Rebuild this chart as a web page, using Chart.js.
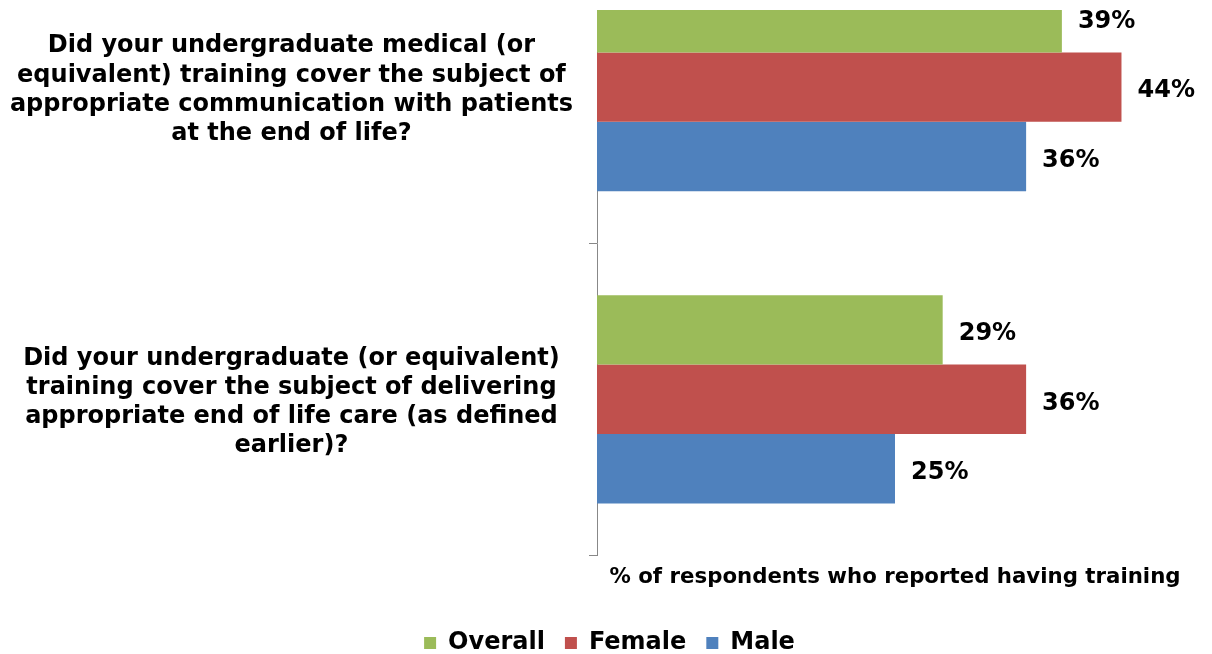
<!DOCTYPE html>
<html>
<head>
<meta charset="utf-8">
<script src="https://cdn.jsdelivr.net/npm/chart.js@4"></script>
<style>
  html, body { margin: 0; padding: 0; background: #fff; }
  #wrap { position: absolute; left: 0; top: 10px; width: 1212px; height: 644px; overflow: hidden; }
  #box { position: absolute; left: 0; top: -79px; width: 1212px; height: 734px; }
</style>
</head>
<body>
<div id="wrap"><div id="box"><canvas id="chart"></canvas></div></div>
<script>
const categories = [
  ["Did your undergraduate medical (or", "equivalent) training cover the subject of", "appropriate communication with patients", "at the end of life?"],
  ["Did your undergraduate (or equivalent)", "training cover the subject of delivering", "appropriate end of life care (as defined", "earlier)?"]
];
const seriesNames = ["Overall", "Female", "Male"];
const overall = [39, 29];
const female = [44, 36];
const male = [36, 25];
const colors = ["#9BBB59", "#C0504D", "#4F81BD"];

const FONT = "'DejaVu Sans', Verdana, sans-serif";

// draws the value labels to the right of each bar
const valueLabels = {
  id: "valueLabels",
  afterDatasetsDraw(chart) {
    const ctx = chart.ctx;
    ctx.save();
    ctx.font = "bold 24px " + FONT;
    ctx.fillStyle = "#000";
    ctx.textAlign = "left";
    ctx.textBaseline = "middle";
    chart.data.datasets.forEach((ds, i) => {
      chart.getDatasetMeta(i).data.forEach((bar, j) => {
        ctx.fillText(ds.data[j] + "%", bar.x + 16, bar.y + 4);
      });
    });
    ctx.restore();
  }
};

// nudge the legend a bit to the right, like the original
const legendShift = {
  id: "legendShift",
  afterLayout(chart) {
    if (chart.legend) {
      chart.legend.left += 13;
      chart.legend.right += 13;
    }
  }
};

new Chart(document.getElementById("chart"), {
  type: "bar",
  data: {
    labels: categories,
    datasets: [
      { label: seriesNames[0], data: overall, backgroundColor: colors[0] },
      { label: seriesNames[1], data: female, backgroundColor: colors[1] },
      { label: seriesNames[2], data: male, backgroundColor: colors[2] }
    ]
  },
  options: {
    indexAxis: "y",
    responsive: true,
    maintainAspectRatio: false,
    animation: false,
    categoryPercentage: 0.667,
    barPercentage: 1.0,
    layout: { padding: { top: 0, right: 19, bottom: 0, left: 0 } },
    scales: {
      y: {
        offset: true,
        grid: { offset: true, drawOnChartArea: false, tickLength: 8, color: "#888" },
        border: { color: "#888" },
        ticks: {
          crossAlign: "center",
          padding: 16,
          labelOffset: 3,
          color: "#000",
          font: { family: FONT, size: 24, weight: "bold", lineHeight: 1.22 }
        },
        afterFit(scale) {
          scale.width = 597;
          scale.paddingTop = 0;
          scale.paddingBottom = 0;
        }
      },
      x: {
        min: 0,
        max: 50,
        grid: { display: false },
        border: { display: false },
        ticks: { display: false },
        title: {
          display: true,
          text: "% of respondents who reported having training",
          color: "#000",
          font: { family: FONT, size: 21.3, weight: "bold" },
          padding: { top: 1, bottom: 21 }
        }
      }
    },
    plugins: {
      legend: {
        position: "bottom",
        labels: {
          color: "#000",
          boxWidth: 12,
          boxHeight: 12,
          padding: 20,
          font: { family: FONT, size: 24, weight: "bold" }
        }
      },
      tooltip: { enabled: false }
    }
  },
  plugins: [valueLabels, legendShift]
});
</script>
</body>
</html>
